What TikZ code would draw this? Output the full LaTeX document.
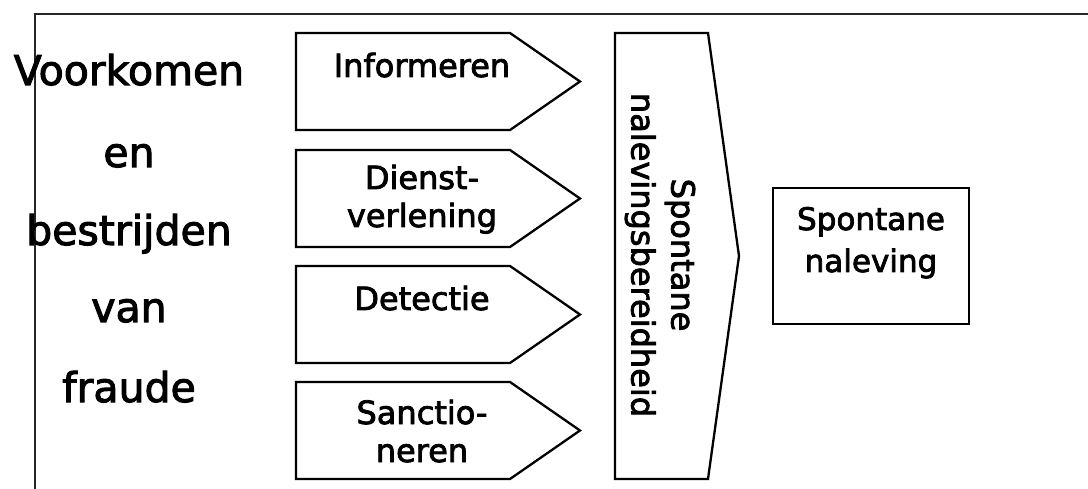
\documentclass[tikz,border=0pt]{standalone}
\usepackage{fontspec}
\setmainfont{DejaVu Sans}[FakeBold=2.5]
\usetikzlibrary{positioning}

\begin{document}
\begin{tikzpicture}[
    x=1pt, y=-1pt,
    vorm/.style={draw, line width=2.3pt, line join=miter},
    groot/.style={font=\fontsize{41}{79}\selectfont, anchor=base, inner sep=0pt},
    pijltekst/.style={font=\fontsize{32}{38}\selectfont, align=center, anchor=base, inner sep=0pt},
    kadertekst/.style={font=\fontsize{31}{42}\selectfont, align=center, anchor=base, inner sep=0pt}
  ]
    \useasboundingbox (0,0) rectangle (1088,489);

    %% ---- frame ----
    \draw[line width=1.6pt, black!85] (35,489) -- (35,14) -- (1088,14);

    %% ---- left column: title ----
    \node[groot] (t1) at (129,85)  {Voorkomen};
    \node[groot] (t2) at (129,167) {en};
    \node[groot] (t3) at (129,245) {bestrijden};
    \node[groot] (t4) at (129,322) {van};
    \node[groot] (t5) at (129,402) {fraude};

    %% ---- middle: four instruments ----
    \draw[vorm] (296,33)  -- (510,33)  -- (580,81.5)  -- (510,130) -- (296,130) -- cycle;
    \draw[vorm] (296,150) -- (510,150) -- (580,198.5) -- (510,247) -- (296,247) -- cycle;
    \draw[vorm] (296,266) -- (510,266) -- (580,314.5) -- (510,363) -- (296,363) -- cycle;
    \draw[vorm] (296,382) -- (510,382) -- (580,430.5) -- (510,479) -- (296,479) -- cycle;

    % multi-line nodes sit on the baseline of their last line
    \node[pijltekst] (inf) at (422,77)  {Informeren};
    \node[pijltekst] (dvl) at (422,227) {Dienst-\\verlening};
    \node[pijltekst] (det) at (422,310) {Detectie};
    \node[pijltekst] (san) at (422,462) {Sanctio-\\neren};

    %% ---- big arrow: willingness ----
    \draw[vorm] (615,33) -- (708,33) -- (739,256) -- (708,479) -- (615,479) -- cycle;
    \node[font=\fontsize{32}{40}\selectfont, align=center, rotate=-90, inner sep=0pt]
      (bereid) at (660,255) {Spontane\\nalevingsbereidheid};

    %% ---- result ----
    \draw[vorm] (773,188) rectangle (969,324);
    \node[kadertekst] (nal) at (871,272) {Spontane\\naleving};
  \end{tikzpicture}
\end{document}
